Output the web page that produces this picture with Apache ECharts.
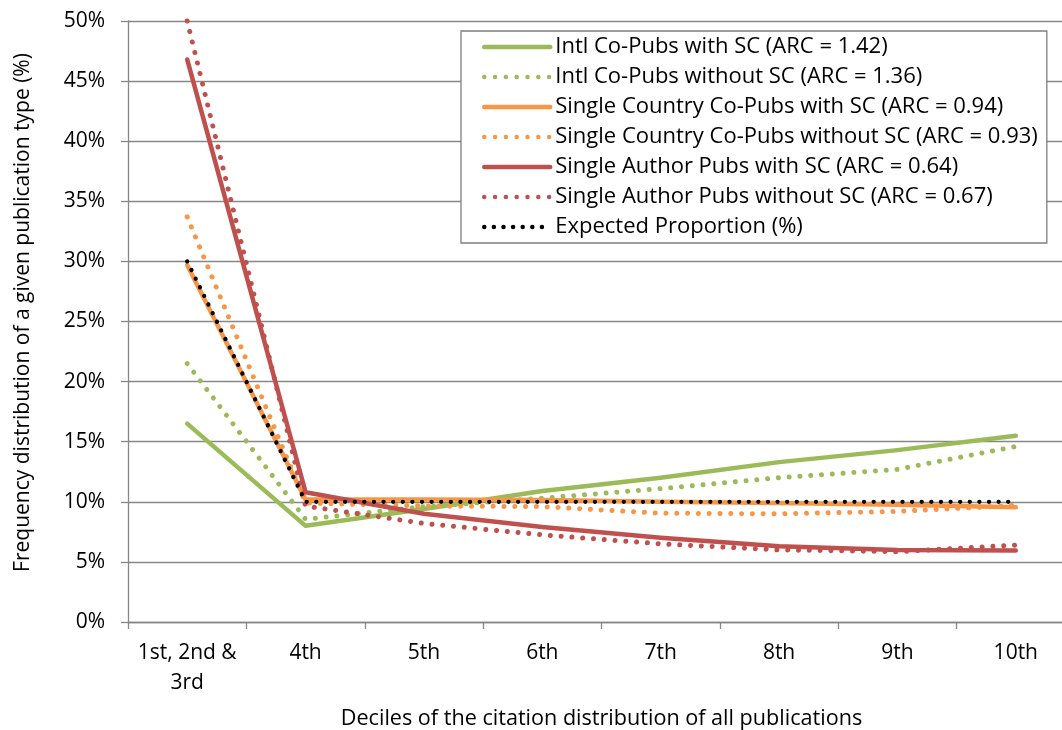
<!DOCTYPE html>
<html>
<head>
<meta charset="utf-8">
<script src="https://cdn.jsdelivr.net/npm/echarts@6/dist/echarts.min.js"></script>
<style>
    html, body { margin: 0; padding: 0; background: #fff; }
    #chartBox { width: 1062px; height: 730px; }
</style>
</head>
<body>
<div id="chartBox"></div>
<script>
// deciles on the x axis
var deciles = ['1st, 2nd &\n3rd', '4th', '5th', '6th', '7th', '8th', '9th', '10th']
var yTicks = [0, 5, 10, 15, 20, 25, 30, 35, 40, 45, 50]

// values in %
var intlWithSC = [16.5, 8.0, 9.4, 10.9, 12.0, 13.3, 14.3, 15.5]
var intlWithoutSC = [21.5, 8.55, 9.6, 10.3, 11.1, 12.0, 12.7, 14.6]
var countryWithSC = [29.7, 10.2, 10.2, 10.15, 10.0, 9.9, 9.75, 9.55]
var countryWithoutSC = [33.7, 9.9, 9.65, 9.6, 9.05, 9.0, 9.2, 9.7]
var authorWithSC = [46.8, 10.8, 9.0, 7.9, 7.0, 6.3, 6.0, 5.95]
var authorWithoutSC = [50.0, 9.65, 8.2, 7.25, 6.5, 6.0, 5.85, 6.4]
var expected = [30, 10, 10, 10, 10, 10, 10, 10]

var seriesNames = [
    'Intl Co-Pubs with SC (ARC = 1.42)',
    'Intl Co-Pubs without SC (ARC = 1.36)',
    'Single Country Co-Pubs with SC (ARC = 0.94)',
    'Single Country Co-Pubs without SC (ARC = 0.93)',
    'Single Author Pubs with SC (ARC = 0.64)',
    'Single Author Pubs without SC (ARC = 0.67)',
    'Expected Proportion (%)'
]

var green = '#9bbb59', orange = '#f79646', red = '#c0504d'
var font = 'Open Sans'
var fs = 21

function solid(name, data, color) {
    return {
        name: name, type: 'line', data: data, symbol: 'none', clip: false,
        itemStyle: { color: color },
        lineStyle: { color: color, width: 4.5, cap: 'round', join: 'round' }
    }
}
// round dots: zero length dashes with round caps
function dotted(name, data, color, w, gap) {
    return {
        name: name, type: 'line', data: data, symbol: 'none', clip: false,
        itemStyle: { color: color },
        lineStyle: { color: color, width: w, type: [0.01, gap], cap: 'round' }
    }
}

var myChart = echarts.init(document.getElementById('chartBox'))
var option = {
    animation: false,
    textStyle: { fontFamily: font },
    grid: { left: 128, width: 947, top: 21, bottom: 108, containLabel: false, outerBoundsMode: 'none' },
    legend: {
        orient: 'vertical',
        left: 461,
        top: 31,
        padding: [5, 9, 5, 21],
        itemWidth: 66,
        itemHeight: 22,
        itemGap: 8,
        borderColor: '#7f7f7f',
        borderWidth: 1.3,
        backgroundColor: '#fff',
        itemStyle: { opacity: 0 },
        lineStyle: { width: 4.5 },
        textStyle: { fontFamily: font, fontSize: 22, color: '#000' },
        data: seriesNames
    },
    xAxis: {
        type: 'category',
        data: deciles,
        name: 'Deciles of the citation distribution of all publications',
        nameLocation: 'middle',
        nameGap: 86,
        nameTextStyle: { fontFamily: font, fontSize: 21.6, color: '#000' },
        axisLine: { lineStyle: { color: '#878787', width: 1.3 } },
        axisTick: { show: true, length: 7, lineStyle: { color: '#878787', width: 1.3 } },
        axisLabel: { interval: 0, fontFamily: font, fontSize: fs, color: '#000', margin: 16, lineHeight: 30 }
    },
    yAxis: {
        type: 'value',
        min: yTicks[0],
        max: yTicks[yTicks.length - 1],
        interval: 5,
        name: 'Frequency distribution of a given publication type (%)',
        nameLocation: 'middle',
        nameGap: 94,
        nameTextStyle: { fontFamily: font, fontSize: fs, color: '#000', padding: [0, 0, 0, 18] },
        axisLine: { show: true, lineStyle: { color: '#878787', width: 1.3 } },
        axisTick: { show: true, length: 7, lineStyle: { color: '#878787', width: 1.3 } },
        axisLabel: { fontFamily: font, fontSize: fs, color: '#000', margin: 23, formatter: '{value}%' },
        splitLine: { lineStyle: { color: '#878787', width: 1.3 } }
    },
    series: [
        solid(seriesNames[0], intlWithSC, green),
        dotted(seriesNames[1], intlWithoutSC, green, 5, 10.8),
        solid(seriesNames[2], countryWithSC, orange),
        dotted(seriesNames[3], countryWithoutSC, orange, 5, 10.8),
        solid(seriesNames[4], authorWithSC, red),
        dotted(seriesNames[5], authorWithoutSC, red, 5, 10.8),
        dotted(seriesNames[6], expected, '#000', 4.3, 9.6)
    ]
}
myChart.setOption(option)
</script>
</body>
</html>
